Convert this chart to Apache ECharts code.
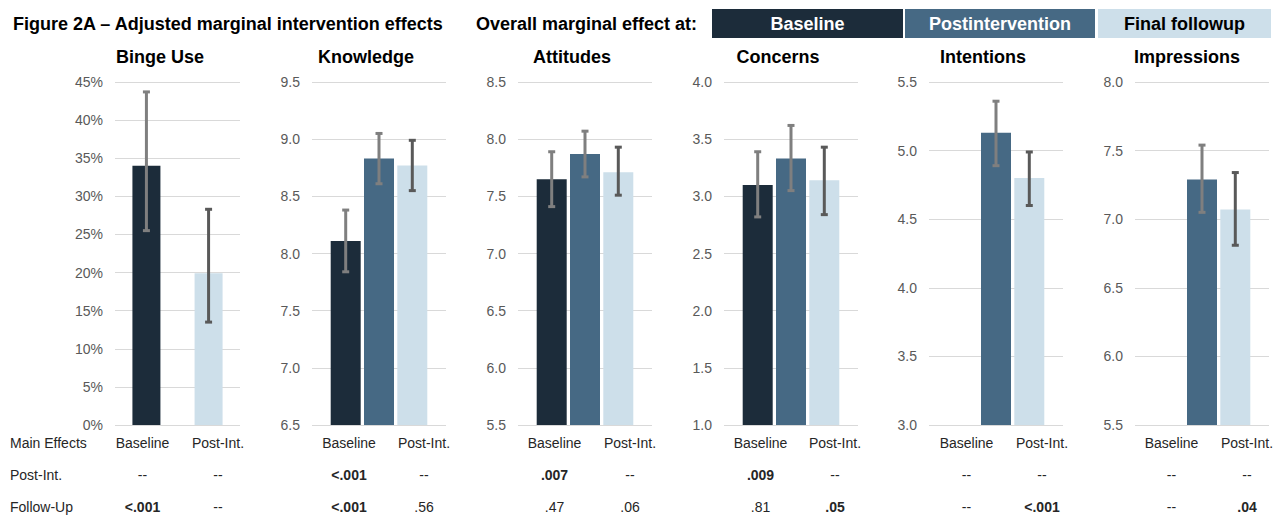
<!DOCTYPE html>
<html>
<head>
<meta charset="utf-8">
<script src="https://cdn.jsdelivr.net/npm/echarts@6/dist/echarts.min.js"></script>
<style>
html,body{margin:0;padding:0;background:#fff;}
#chart{width:1276px;height:515px;}
</style>
</head>
<body>
<div id="chart"></div>
<script>
// ---------- data ----------
const panelTitles = ['Binge Use', 'Knowledge', 'Attitudes', 'Concerns', 'Intentions', 'Impressions'];
const seriesNames = ['Baseline', 'Postintervention', 'Final followup'];
const baseline = [34.0, 8.11, 7.65, 3.10, null, null];
const postInt  = [null, 8.83, 7.87, 3.33, 5.13, 7.29];
const followUp = [19.9, 8.77, 7.71, 3.14, 4.80, 7.07];
const baselineLow  = [25.5, 7.84, 7.41, 2.82, null, null];
const baselineHigh = [43.7, 8.38, 7.89, 3.39, null, null];
const postIntLow   = [null, 8.61, 7.67, 3.05, 4.89, 7.05];
const postIntHigh  = [null, 9.05, 8.07, 3.62, 5.36, 7.54];
const followUpLow  = [13.5, 8.55, 7.51, 2.84, 4.60, 6.81];
const followUpHigh = [28.3, 8.99, 7.93, 3.43, 4.99, 7.34];
const yMin  = [0, 6.5, 5.5, 1.0, 3.0, 5.5];
const yMax  = [45, 9.5, 8.5, 4.0, 5.5, 8.0];
const yStep = [5, 0.5, 0.5, 0.5, 0.5, 0.5];
const yIsPercent = [true, false, false, false, false, false];
// main-effects table
const tableTitle = 'Main Effects';
const tableColumns = ['Baseline', 'Post-Int.'];
const tableRows = ['Post-Int.', 'Follow-Up'];
const pPostInt = [['--', '--'], ['<.001', '--'], ['.007', '--'], ['.009', '--'], ['--', '--'], ['--', '--']];
const pFollowUp = [['<.001', '--'], ['<.001', '.56'], ['.47', '.06'], ['.81', '.05'], ['--', '<.001'], ['--', '.04']];
const figureTitle = 'Figure 2A \u2013 Adjusted marginal intervention effects';
const legendTitle = 'Overall marginal effect at:';

// ---------- layout / style ----------
const FONT = "'Liberation Sans', Arial, sans-serif";
const barColors = ['#1c2c3a', '#466984', '#cddfea'];
const errColors = ['#7f7f7f', '#7f7f7f', '#595959'];
const gridLeft = [115, 312, 518, 724, 929, 1135];
const gridWidth = [125, 134, 134, 134, 134, 134];
const barW = [28, 30, 30, 30, 30, 30];
const gapPct = 0.11;
const gridTop = 82, gridBottom = 425;
const titleX = [160, 366, 572, 778, 983, 1187];
const colBaseX = [142.5, 349, 554.5, 760.5, 966.5, 1171.5];
const colPostX = [218, 424, 630, 835, 1042, 1247];

const values = [baseline, postInt, followUp];
const lows = [baselineLow, postIntLow, followUpLow];
const highs = [baselineHigh, postIntHigh, followUpHigh];

const grids = [], xAxes = [], yAxes = [], series = [];
panelTitles.forEach((t, i) => {
  grids.push({left: gridLeft[i], width: gridWidth[i], top: gridTop, height: gridBottom - gridTop, containLabel: false});
  xAxes.push({type: 'category', gridIndex: i, data: [''], axisLine: {show: false}, axisTick: {show: false}, axisLabel: {show: false}});
  yAxes.push({
    type: 'value', gridIndex: i, min: yMin[i], max: yMax[i], interval: yStep[i],
    axisLine: {show: false}, axisTick: {show: false},
    splitLine: {lineStyle: {color: '#d9d9d9', width: 1}},
    axisLabel: {
      color: '#595959', fontFamily: FONT, fontSize: 14, margin: 12,
      formatter: v => yIsPercent[i] ? Math.round(v) + '%' : v.toFixed(1)
    }
  });
  for (let s = 0; s < 3; s++) {
    series.push({
      type: 'bar', name: seriesNames[s], xAxisIndex: i, yAxisIndex: i,
      barWidth: barW[i], barGap: (gapPct * 100) + '%',
      itemStyle: {color: barColors[s]},
      data: [values[s][i] == null ? '-' : values[s][i]],
      silent: true, animation: false
    });
  }
  for (let s = 0; s < 3; s++) {
    if (lows[s][i] == null) continue;
    const offset = (s - 1) * barW[i] * (1 + gapPct);
    series.push({
      type: 'custom', xAxisIndex: i, yAxisIndex: i, z: 10, silent: true, animation: false,
      data: [[0, lows[s][i], highs[s][i]]],
      renderItem: (params, api) => {
        const lo = api.coord([api.value(0), api.value(1)]);
        const hi = api.coord([api.value(0), api.value(2)]);
        const x = lo[0] + offset;
        const st = {stroke: errColors[s], lineWidth: 3};
        return {type: 'group', children: [
          {type: 'line', shape: {x1: x, y1: lo[1], x2: x, y2: hi[1]}, style: st},
          {type: 'line', shape: {x1: x - 3.5, y1: lo[1], x2: x + 3.5, y2: lo[1]}, style: st},
          {type: 'line', shape: {x1: x - 3.5, y1: hi[1], x2: x + 3.5, y2: hi[1]}, style: st}
        ]};
      }
    });
  }
});

// graphic texts
const graphic = [];
function txt(x, y, text, opt) {
  graphic.push({type: 'text', x: x, y: y, silent: true, z: 100, style: Object.assign({
    text: text, fill: '#000', font: 'bold 18px ' + FONT, textAlign: 'left', textVerticalAlign: 'middle'
  }, opt || {})});
}
txt(13, 24, figureTitle);
txt(476, 24, legendTitle);
const boxX = [712, 905, 1098], boxW = [191, 190, 173];
const boxText = ['#ffffff', '#ffffff', '#000000'];
seriesNames.forEach((n, k) => {
  graphic.push({type: 'rect', silent: true, shape: {x: boxX[k], y: 9, width: boxW[k], height: 29}, style: {fill: barColors[k]}});
  txt(boxX[k] + boxW[k] / 2, 24, n, {fill: boxText[k], textAlign: 'center'});
});
panelTitles.forEach((t, i) => txt(titleX[i], 57, t, {textAlign: 'center'}));
const tFont = '14px ' + FONT, tFontB = 'bold 14px ' + FONT;
const isSig = p => p.startsWith('<') || (!isNaN(parseFloat(p)) && parseFloat(p) <= 0.05);
txt(10, 443, tableTitle, {font: tFont, fill: '#262626'});
txt(10, 475, tableRows[0], {font: tFont, fill: '#262626'});
txt(10, 507, tableRows[1], {font: tFont, fill: '#262626'});
panelTitles.forEach((t, i) => {
  txt(colBaseX[i], 443, tableColumns[0], {font: tFont, fill: '#262626', textAlign: 'center'});
  txt(colPostX[i], 443, tableColumns[1], {font: tFont, fill: '#262626', textAlign: 'center'});
  [pPostInt[i], pFollowUp[i]].forEach((row, r) => {
    row.forEach((p, c) => {
      txt(c === 0 ? colBaseX[i] : colPostX[i], r === 0 ? 475 : 507, p,
        {font: isSig(p) ? tFontB : tFont, fill: '#262626', textAlign: 'center'});
    });
  });
});

const chart = echarts.init(document.getElementById('chart'), null, {renderer: 'svg'});
chart.setOption({
  animation: false,
  backgroundColor: '#ffffff',
  grid: grids, xAxis: xAxes, yAxis: yAxes, series: series, graphic: graphic
});
</script>
</body>
</html>
